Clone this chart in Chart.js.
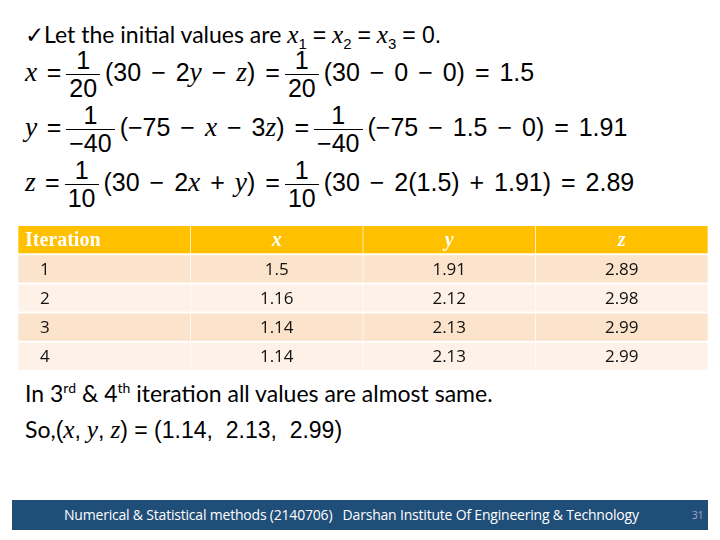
<!DOCTYPE html>
<html><head><meta charset="utf-8">
<script src="https://cdn.jsdelivr.net/npm/chart.js@4.4.0/dist/chart.umd.min.js"></script>
<style>
body{margin:0;width:720px;height:540px;background:#fff;position:relative;overflow:hidden;font-family:Lato,"Liberation Sans",sans-serif;}
.ln{position:absolute;left:25px;font-size:23px;white-space:nowrap;color:#000;}
.m{font-family:"Liberation Serif",serif;font-style:italic;font-size:1.1em;}
.n{font-family:"Liberation Sans",sans-serif;}
.q{font-size:25px;word-spacing:3px;}
.fr{display:inline-block;vertical-align:middle;text-align:center;margin:0 5px;font-family:"Liberation Sans",sans-serif;}
.fr span{display:block;line-height:27px;padding:0 3px;}
.fr .t{border-bottom:1.5px solid #000;}
#tbl{position:absolute;left:18px;top:225px;width:690px;height:146px;}
#foot{position:absolute;left:12px;top:500px;width:696px;height:30px;background:#1F4E79;color:#fff;font-size:14px;line-height:30px;font-family:"Open Sans";}
</style></head><body>
<div class="ln" style="top:20px">✓Let the initial values are <span class="m">x</span><sub class="n" style="font-size:15px">1</sub> <span class="n">=</span> <span class="m">x</span><sub class="n" style="font-size:15px">2</sub> <span class="n">=</span> <span class="m">x</span><sub class="n" style="font-size:15px">3</sub> <span class="n">= 0.</span></div>
<div class="ln q" style="top:47px"><span class="m">x</span> <span class="n">=</span><span class="fr"><span class="t">1</span><span>20</span></span><span class="n">(30 − 2<span class="m">y</span> − <span class="m">z</span>) =</span><span class="fr"><span class="t">1</span><span>20</span></span><span class="n">(30 − 0 − 0) = 1.5</span></div>
<div class="ln q" style="top:102px"><span class="m">y</span> <span class="n">=</span><span class="fr"><span class="t">1</span><span>−40</span></span><span class="n">(−75 − <span class="m">x</span> − 3<span class="m">z</span>) =</span><span class="fr"><span class="t">1</span><span>−40</span></span><span class="n">(−75 − 1.5 − 0) = 1.91</span></div>
<div class="ln q" style="top:157px"><span class="m">z</span> <span class="n">=</span><span class="fr"><span class="t">1</span><span>10</span></span><span class="n">(30 − 2<span class="m">x</span> + <span class="m">y</span>) =</span><span class="fr"><span class="t">1</span><span>10</span></span><span class="n">(30 − 2(1.5) + 1.91) = 2.89</span></div>
<div id="tbl"><canvas id="c"></canvas></div>
<div class="ln" style="top:379px">In 3<sup style="font-size:14px">rd</sup> &amp; 4<sup style="font-size:14px">th</sup> iteration all values are almost same.</div>
<div class="ln" style="top:415px">So,<span class="n">(</span><span class="m">x</span><span class="n">,</span> <span class="m">y</span><span class="n">,</span> <span class="m">z</span><span class="n">) = (1.14,&nbsp; 2.13,&nbsp; 2.99)</span></div>
<div id="foot"><span style="position:absolute;left:52px;letter-spacing:-0.2px">Numerical &amp; Statistical methods (2140706)&nbsp;&nbsp; Darshan Institute Of Engineering &amp; Technology</span><span style="position:absolute;left:680px;font-size:10px;color:#aac">31</span></div>
<script>
const headers = ['Iteration', 'x', 'y', 'z'];
const iterations = ['1', '2', '3', '4'];
const xVals = ['1.5', '1.16', '1.14', '1.14'];
const yVals = ['1.91', '2.12', '2.13', '2.13'];
const zVals = ['2.89', '2.98', '2.99', '2.99'];
const rows = ['hdr'].concat(iterations);
const columns = [iterations, xVals, yVals, zVals];
const rowColor = ['#FFC000', '#FCE4CC', '#FEF2E8', '#FCE4CC', '#FEF2E8'];

const datasets = headers.map((h, c) => ({
    label: h,
    data: rows.map(() => [c + 0.002, c + 0.998]),
    backgroundColor: rowColor,
    borderWidth: 0,
    barPercentage: 0.93,
    categoryPercentage: 1
}));

const cellText = {
    id: 'cellText',
    afterDatasetsDraw(chart) {
        const ctx = chart.ctx, xs = chart.scales.x, ys = chart.scales.y;
        ctx.save();
        ctx.textBaseline = 'middle';
        rows.forEach((r, ri) => {
            const y = ys.getPixelForValue(ri) + 1;
            headers.forEach((h, c) => {
                let txt, x;
                if (ri === 0) {
                    txt = h;
                    ctx.fillStyle = '#fff';
                    ctx.font = c === 0 ? 'bold 20px "Liberation Serif"' : 'italic bold 20px "Liberation Serif"';
                } else {
                    txt = columns[c][ri - 1];
                    ctx.fillStyle = '#111';
                    ctx.font = '17px "Open Sans"';
                }
                if (c === 0) { ctx.textAlign = 'left'; x = xs.getPixelForValue(0) + (ri === 0 ? 7 : 22); }
                else { ctx.textAlign = 'center'; x = xs.getPixelForValue(c + 0.5); }
                ctx.fillText(txt, x, y);
            });
        });
        ctx.restore();
    }
};

new Chart(document.getElementById('c'), {
    type: 'bar',
    data: { labels: rows, datasets: datasets },
    options: {
        indexAxis: 'y',
        responsive: true,
        maintainAspectRatio: false,
        animation: false,
        layout: { padding: 0 },
        plugins: { legend: { display: false }, tooltip: { enabled: false } },
        scales: {
            x: { display: false, min: 0, max: 4 },
            y: { display: false, stacked: true }
        }
    },
    plugins: [cellText]
});
</script>
</body></html>
